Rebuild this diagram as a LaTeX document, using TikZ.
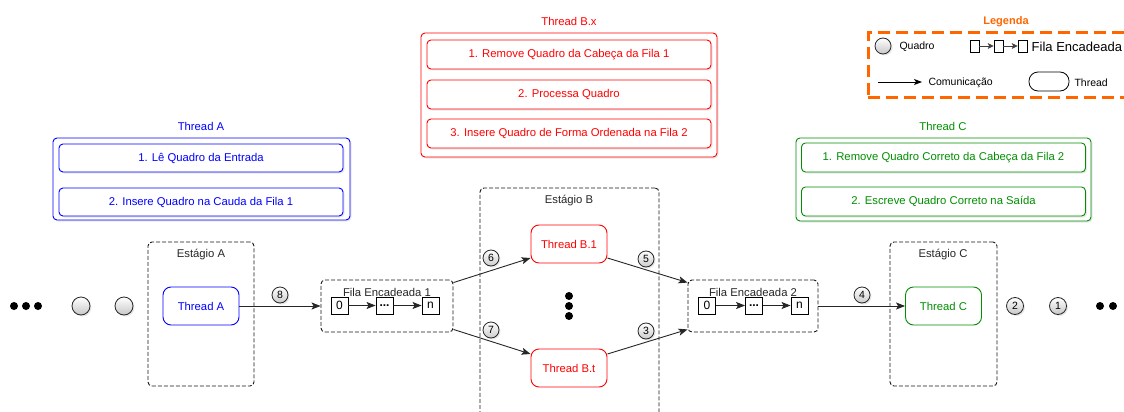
\documentclass[tikz,border=0pt]{standalone}
\usepackage{fontspec}
\setmainfont{Liberation Sans}
\usetikzlibrary{arrows.meta,shadows}
\definecolor{tblue}{HTML}{0000FF}
\definecolor{tred}{HTML}{FF0000}
\definecolor{tgreen}{HTML}{008F00}
\definecolor{lorange}{HTML}{FF6600}
\begin{document}
\begin{tikzpicture}[x=1pt,y=-1pt,
  font=\fontsize{11.3}{13}\selectfont,
  shd/.style={drop shadow={opacity=0.18,shadow xshift=1.5pt,shadow yshift=-1.5pt}},
  stagebox/.style={draw=black!90,dash pattern=on 4pt off 2pt,rounded corners=4pt,line width=0.9pt,inner sep=0},
  thr/.style={draw,rounded corners=8pt,minimum width=76pt,minimum height=38pt,line width=0.9pt,fill=white,inner sep=0},
  panel/.style={draw,rounded corners=4pt,line width=0.9pt,fill=white,shd,inner sep=0},
  sub/.style={draw,rounded corners=4pt,minimum width=284pt,minimum height=28pt,line width=0.9pt,fill=white,shd,inner sep=0},
  quad/.style={circle,draw=black!85,line width=0.8pt,minimum size=18pt,inner sep=0,top color=white,bottom color=black!22,shd},
  num/.style={circle,draw=black!85,line width=0.8pt,minimum size=16pt,inner sep=0,top color=white,bottom color=black!20,shd,font=\fontsize{10.5}{10.5}\selectfont},
  cell/.style={draw,line width=0.9pt,minimum width=17pt,minimum height=17pt,inner sep=0,fill=white,font=\fontsize{12}{12}\selectfont},
  lcell/.style={draw,line width=0.7pt,minimum width=9pt,minimum height=12pt,inner sep=0,fill=white},
  arr/.style={-{Stealth[length=9pt,width=7pt,inset=2pt]},line width=0.9pt,draw=black!85},
  sarr/.style={-{Stealth[length=6pt,width=6pt,inset=1.5pt]},line width=0.8pt,draw=black!75},
  bigdot/.style={circle,fill=black,minimum size=8pt,inner sep=0},
  lbl/.style={text=black!85}
]
\clip (0,0) rectangle (1124,412);
\fill[white] (0,0) rectangle (1124,412);

% ---------------- panels ----------------
\node[lbl,text=tblue] (tAt) at (201,126) {Thread A};
\node[panel,draw=tblue,minimum width=297pt,minimum height=82pt] (pA) at (201.5,179) {};
\node[sub,draw=tblue,text=tblue] (pA1) at (201,158) {1. Lê Quadro da Entrada};
\node[sub,draw=tblue,text=tblue] (pA2) at (201,202) {2. Insere Quadro na Cauda da Fila 1};

\node[text=tred] (tBt) at (569,21) {Thread B.x};
\node[panel,draw=tred,minimum width=296pt,minimum height=124pt] (pB) at (569,95) {};
\node[sub,draw=tred,text=tred,minimum height=29pt] (pB1) at (569,54.5) {1. Remove Quadro da Cabeça da Fila 1};
\node[sub,draw=tred,text=tred,minimum height=29pt] (pB2) at (569,94.5) {2. Processa Quadro};
\node[sub,draw=tred,text=tred,minimum height=29pt] (pB3) at (569,133.5) {3. Insere Quadro de Forma Ordenada na Fila 2};

\node[text=tgreen] (tCt) at (943,126) {Thread C};
\node[panel,draw=tgreen,minimum width=295pt,minimum height=83pt] (pC) at (943.5,179.5) {};
\node[sub,draw=tgreen,text=tgreen,minimum height=29pt] (pC1) at (943.5,157.5) {1. Remove Quadro Correto da Cabeça da Fila 2};
\node[sub,draw=tgreen,text=tgreen,minimum height=29pt] (pC2) at (943.5,201.5) {2. Escreve Quadro Correto na Saída};

% ---------------- legend ----------------
\node[text=lorange,font=\fontsize{11}{13}\selectfont\bfseries] (legt) at (1006,22) {Legenda};
\node[draw=lorange,line width=3pt,dash pattern=on 12pt off 6pt,minimum width=276pt,minimum height=64pt,inner sep=0] (leg) at (1006,65) {};
\node[quad,minimum size=16pt] (lq) at (883,46) {};
\node[anchor=west,font=\fontsize{10.5}{12}\selectfont] (lqt) at (896,47) {Quadro};
\node[lcell] (lc1) at (974.5,46) {};
\node[lcell] (lc2) at (998.5,46) {};
\node[lcell] (lc3) at (1022.5,46) {};
\draw[sarr] (lc1) -- (lc2);
\draw[sarr] (lc2) -- (lc3);
\node[anchor=west,font=\fontsize{13}{15}\selectfont,inner sep=0] (lft) at (1031.5,47) {Fila Encadeada};
\coordinate (la1) at (878,82);
\coordinate (la2) at (922,82);
\draw[-{Stealth[length=8pt,width=6pt,inset=2pt]},line width=0.9pt] (la1) -- (la2);
\node[anchor=west,font=\fontsize{10.5}{12}\selectfont] (lct) at (925,82.5) {Comunicação};
\node[draw,rounded corners=9pt,minimum width=40pt,minimum height=19pt,line width=0.8pt,inner sep=0] (lth) at (1049,81.5) {};
\node[anchor=west,font=\fontsize{10.5}{12}\selectfont] (ltt) at (1071,82.5) {Thread};

% ---------------- stages ----------------
\node[stagebox,minimum width=106pt,minimum height=144pt] (stA) at (201,314) {};
\node[lbl] (stAt) at (201,255) {Estágio A};
\node[stagebox,minimum width=179pt,minimum height=250pt] (stB) at (569.5,313) {};
\node[lbl] (stBt) at (569,201) {Estágio B};
\node[stagebox,minimum width=107pt,minimum height=144pt] (stC) at (943.5,314) {};
\node[lbl] (stCt) at (943,255) {Estágio C};

% threads
\node[thr,draw=tblue,text=tblue] (A) at (201,306) {Thread A};
\node[thr,draw=tred,text=tred] (B1) at (569,244) {Thread B.1};
\node[thr,draw=tred,text=tred] (Bt) at (569,368) {Thread B.t};
\node[thr,draw=tgreen,text=tgreen] (C) at (943.5,306) {Thread C};

% queues
\node[stagebox,minimum width=132pt,minimum height=52pt] (F1) at (387,306) {};
\node[lbl] (F1t) at (387,292) {Fila Encadeada 1};
\node[cell] (F1a) at (339.5,305.5) {0};
\node[cell] (F1b) at (384.5,305.5) {\textbf{...}};
\node[cell] (F1c) at (430.5,305.5) {n};
\draw[arr,line width=0.8pt] (F1a) -- (F1b);
\draw[arr,line width=0.8pt] (F1b) -- (F1c);

\node[stagebox,minimum width=130pt,minimum height=52pt] (F2) at (753,306) {};
\node[lbl] (F2t) at (753,292) {Fila Encadeada 2};
\node[cell] (F2a) at (707,305.5) {0};
\node[cell] (F2b) at (754,305.5) {\textbf{...}};
\node[cell] (F2c) at (799.5,305.5) {n};
\draw[arr,line width=0.8pt] (F2a) -- (F2b);
\draw[arr,line width=0.8pt] (F2b) -- (F2c);

% connectors
\draw[arr] (A) -- (F1);
\draw[arr] ([yshift=-3pt]F1.north east) -- ([yshift=-14pt]B1.west);
\draw[arr] ([yshift=3pt]F1.south east) -- ([yshift=14pt]Bt.west);
\draw[arr] ([yshift=-14pt]B1.east) -- ([yshift=-3pt]F2.north west);
\draw[arr] ([yshift=14pt]Bt.east) -- ([yshift=3pt]F2.south west);
\draw[arr] (F2) -- (C);

% numbers
\node[num] (n8) at (280,295) {8};
\node[num] (n6) at (491,258) {6};
\node[num] (n7) at (491,330) {7};
\node[num] (n5) at (646,259) {5};
\node[num] (n3) at (646,331) {3};
\node[num] (n4) at (862,295) {4};

% frames
\node[bigdot] (d1) at (14,306) {};
\node[bigdot] (d2) at (26,306) {};
\node[bigdot] (d3) at (38,306) {};
\node[quad] (q1) at (81,306) {};
\node[quad] (q2) at (124,306) {};
\node[quad,minimum size=17pt,font=\fontsize{10.5}{10.5}\selectfont] (q3) at (1015,306) {2};
\node[quad,minimum size=17pt,font=\fontsize{10.5}{10.5}\selectfont] (q4) at (1058,306) {1};
\node[bigdot] (d4) at (1100,306) {};
\node[bigdot] (d5) at (1113,306) {};
\node[bigdot] (v1) at (569,296) {};
\node[bigdot] (v2) at (569,306) {};
\node[bigdot] (v3) at (569,316) {};
\end{tikzpicture}
\end{document}
